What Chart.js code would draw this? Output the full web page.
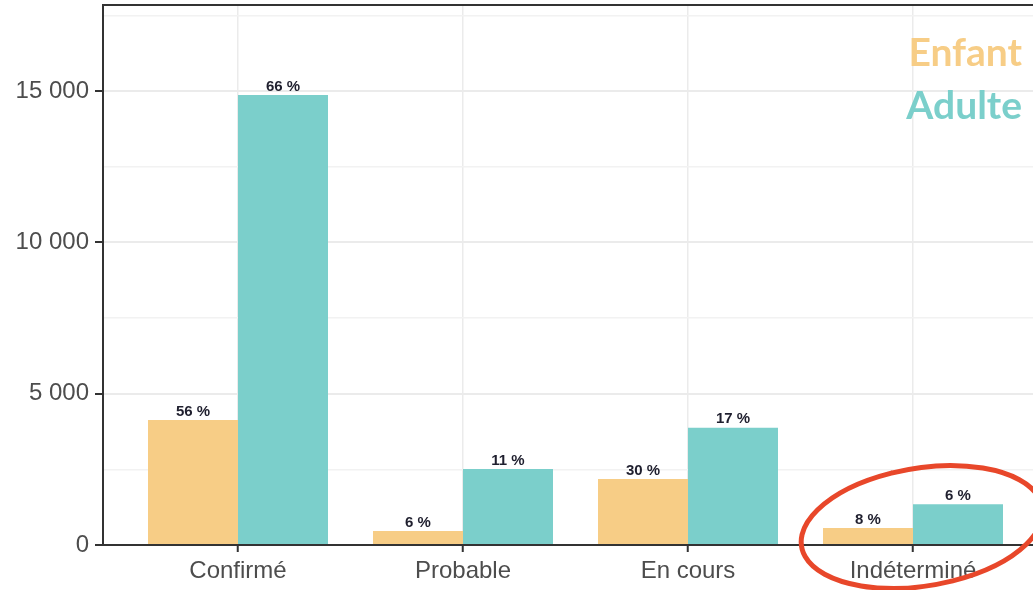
<!DOCTYPE html>
<html>
<head>
<meta charset="utf-8">
<script src="https://cdn.jsdelivr.net/npm/chart.js@4.4.0/dist/chart.umd.min.js"></script>
<style>
  html, body { margin: 0; padding: 0; background: #fff; overflow: hidden; }
  #wrap { width: 1033px; height: 590px; position: relative; }
</style>
</head>
<body>
<div id="wrap"><canvas id="chart"></canvas></div>
<script>
// Données
const categories = ['Confirmé', 'Probable', 'En cours', 'Indéterminé'];
const enfantValues = [4130, 460, 2180, 560];
const adulteValues = [14870, 2510, 3870, 1350];
const enfantPct = ['56 %', '6 %', '30 %', '8 %'];
const adultePct = ['66 %', '11 %', '17 %', '6 %'];
const yTicks = [0, 2500, 5000, 7500, 10000, 12500, 15000, 17500];

const ENFANT_COLOR = '#f7cd86';
const ADULTE_COLOR = '#7bcfcb';
const TEXT_COLOR = '#4d4d4d';
const GRID_COLOR = '#ebebeb';
const AXIS_COLOR = '#333333';

function fmtThousands(v) {
  return String(v).replace(/\B(?=(\d{3})+(?!\d))/g, ' ');
}

// Étiquettes de pourcentage au-dessus des barres
const pctLabels = {
  id: 'pctLabels',
  afterDatasetsDraw(chart) {
    const ctx = chart.ctx;
    ctx.save();
    ctx.font = 'bold 15px "Liberation Sans", Arial, sans-serif';
    ctx.fillStyle = '#1f1f2e';
    ctx.textAlign = 'center';
    ctx.textBaseline = 'bottom';
    chart.data.datasets.forEach((ds, i) => {
      const meta = chart.getDatasetMeta(i);
      meta.data.forEach((bar, j) => {
        ctx.fillText(ds.pct[j], bar.x, bar.y - 1);
      });
    });
    ctx.restore();
  }
};

// Cadre du panneau, légende et annotation
const decorations = {
  id: 'decorations',
  afterDraw(chart) {
    const ctx = chart.ctx;
    const a = chart.chartArea;
    ctx.save();
    ctx.strokeStyle = AXIS_COLOR;
    ctx.lineWidth = 2;
    ctx.beginPath();
    ctx.moveTo(a.left, a.bottom);
    ctx.lineTo(a.left, a.top);
    ctx.lineTo(a.right + 2, a.top);
    ctx.stroke();

    // Légende
    ctx.font = 'bold 39px Lato, "Open Sans", sans-serif';
    ctx.textAlign = 'right';
    ctx.textBaseline = 'alphabetic';
    ctx.fillStyle = ENFANT_COLOR;
    ctx.fillText('Enfant', 1022, 66);
    ctx.fillStyle = ADULTE_COLOR;
    ctx.fillText('Adulte', 1022, 119);

    // Cercle rouge autour de "Indéterminé"
    ctx.strokeStyle = '#e8472a';
    ctx.lineWidth = 5;
    ctx.lineCap = 'round';
    ctx.beginPath();
    ctx.ellipse(922, 527, 122, 59, -0.16, -1.75, -1.75 + Math.PI * 2 + 0.35);
    ctx.stroke();
    ctx.restore();
  }
};

const chart = new Chart(document.getElementById('chart'), {
  type: 'bar',
  data: {
    datasets: [
      {
        label: 'Enfant',
        data: enfantValues.map((v, i) => ({ x: i, y: v })),
        pct: enfantPct,
        backgroundColor: ENFANT_COLOR,
        borderWidth: 0
      },
      {
        label: 'Adulte',
        data: adulteValues.map((v, i) => ({ x: i, y: v })),
        pct: adultePct,
        backgroundColor: ADULTE_COLOR,
        borderWidth: 0
      }
    ]
  },
  options: {
    responsive: true,
    maintainAspectRatio: false,
    animation: false,
    categoryPercentage: 0.8,
    barPercentage: 1.0,
    layout: { padding: { left: 0, top: 5, right: 0, bottom: 0 } },
    plugins: {
      legend: { display: false },
      tooltip: { enabled: false }
    },
    scales: {
      x: {
        type: 'linear',
        offset: false,
        min: -0.6,
        max: 3.6 - 15 / 225,
        afterBuildTicks: (scale) => {
          scale.ticks = categories.map((c, i) => ({ value: i }));
        },
        afterFit: (scale) => {
          scale.height = 45;
          scale.paddingLeft = 0;
          scale.paddingRight = 0;
        },
        ticks: {
          callback: (v) => categories[v],
          color: TEXT_COLOR,
          font: { size: 24, family: '"Liberation Sans", Arial, sans-serif' },
          padding: 5,
          maxRotation: 0,
          autoSkip: false
        },
        grid: {
          offset: false,
          color: GRID_COLOR,
          lineWidth: 1.5,
          tickColor: AXIS_COLOR,
          tickLength: 7,
          tickWidth: 2
        },
        border: { color: AXIS_COLOR, width: 2 }
      },
      y: {
        min: 0,
        max: 17840,
        afterBuildTicks: (scale) => {
          scale.ticks = yTicks.map(v => ({ value: v }));
        },
        afterFit: (scale) => {
          scale.width = 103;
          scale.paddingTop = 0;
          scale.paddingBottom = 0;
        },
        ticks: {
          callback: (v) => (v % 5000 === 0 ? fmtThousands(v) : ''),
          color: TEXT_COLOR,
          font: { size: 24, family: '"Liberation Sans", Arial, sans-serif' },
          padding: 6
        },
        grid: {
          color: (c) => (c.tick && c.tick.value % 5000 === 0 ? GRID_COLOR : '#f2f2f2'),
          lineWidth: (c) => (c.tick && c.tick.value % 5000 === 0 ? 2 : 1.5),
          tickColor: (c) => (c.tick && c.tick.value % 5000 === 0 ? AXIS_COLOR : 'rgba(0,0,0,0)'),
          tickLength: 8,
          tickWidth: 2
        },
        border: { color: AXIS_COLOR, width: 2 }
      }
    }
  },
  plugins: [pctLabels, decorations]
});
</script>
</body>
</html>
